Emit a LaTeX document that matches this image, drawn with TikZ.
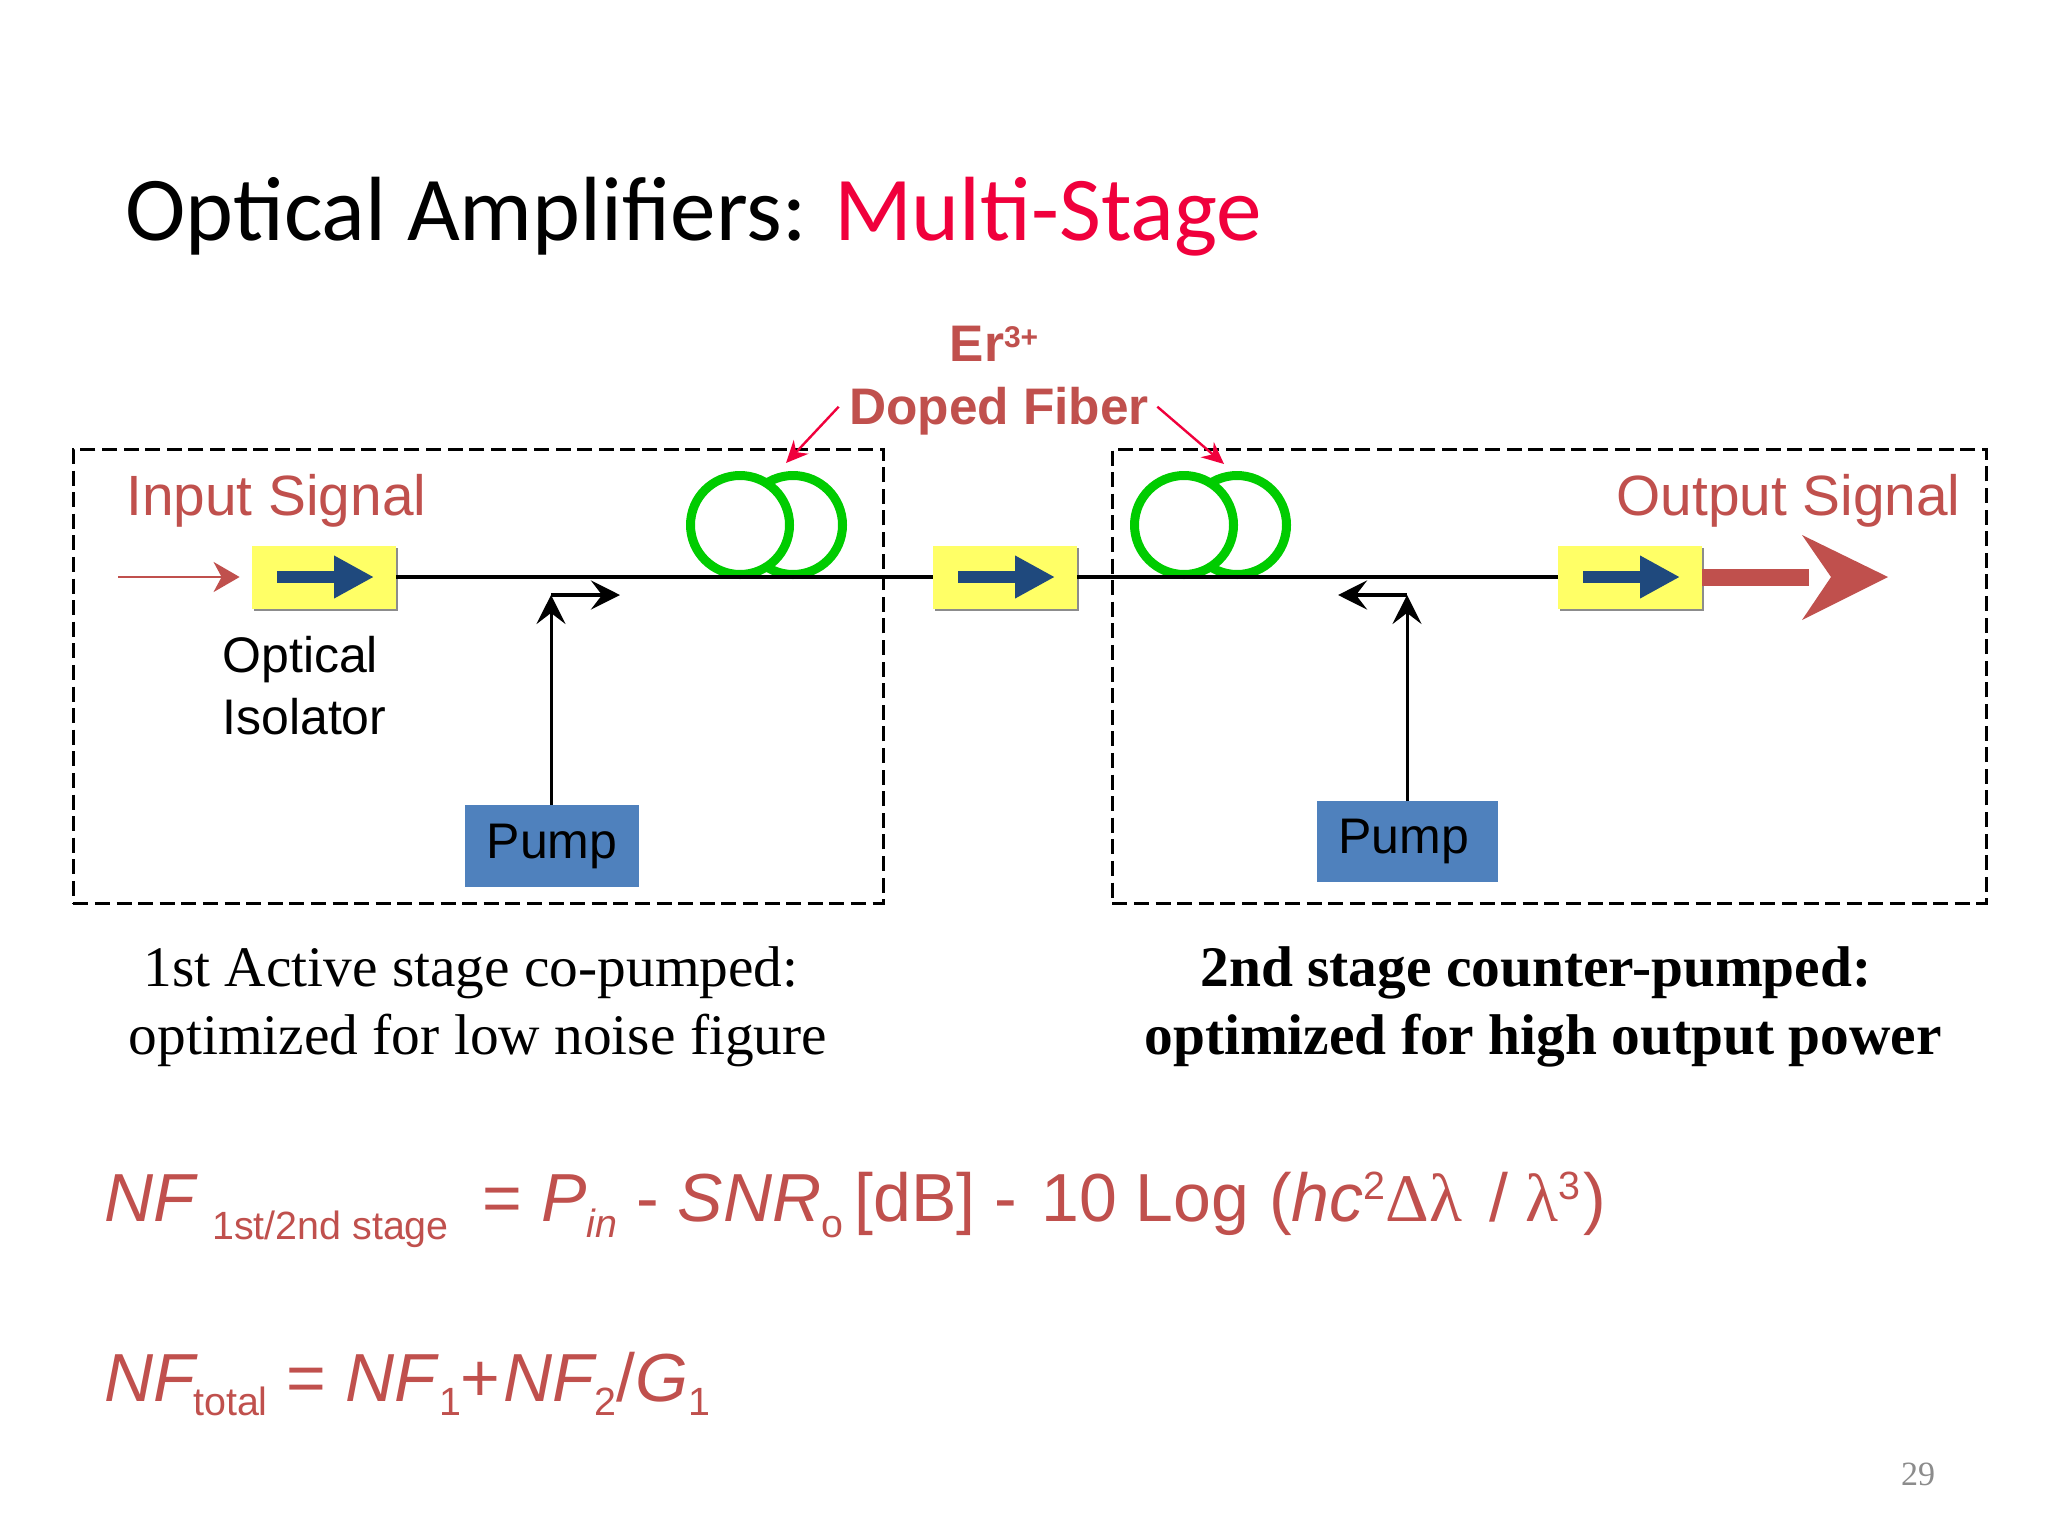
\documentclass[tikz,border=0pt]{standalone}
\usepackage{fontspec}
\setmainfont{Liberation Sans}
\newfontfamily\titlefont{Carlito}
\newfontfamily\capfont{Liberation Serif}
\usetikzlibrary{arrows.meta,shadows}
\definecolor{brick}{HTML}{C0504D}
\definecolor{isoyellow}{HTML}{FFFF66}
\definecolor{isonavy}{HTML}{1F497D}
\definecolor{pumpblue}{HTML}{4F81BD}
\definecolor{coilgreen}{HTML}{00CC00}
\definecolor{hotred}{HTML}{F0003C}
% sub- and superscripts of the formulas
\newcommand{\sbs}[2][-8pt]{\raisebox{#1}{\fontsize{19.7}{19.7}\selectfont #2}}
\newcommand{\sps}[1]{\raisebox{11pt}{\fontsize{19.7}{19.7}\selectfont #1}}
\begin{document}
\begin{tikzpicture}[x=0.5pt,y=-0.5pt]
	% size of each node
	\def\isowidth{72pt}
	\def\isoheight{31.5pt}
	\def\coilsz{54pt}
	\def\liney{577}
	% node style definition
	\tikzstyle{stage} = [draw, dash pattern=on 7.5pt off 3.3pt, line width=1.3pt, rectangle, anchor=north west, inner sep=0pt];
	\tikzstyle{iso} = [fill=isoyellow, rectangle, minimum height=\isoheight, minimum width=\isowidth, inner sep=0pt, drop shadow={shadow xshift=1pt, shadow yshift=-1.2pt, opacity=1, fill=black!45}];
	\tikzstyle{pump} = [fill=pumpblue, rectangle, font=\fontsize{25}{25}\selectfont, inner sep=0pt];
	\tikzstyle{coil} = [draw=coilgreen, line width=4.5pt, fill=white, circle, minimum size=\coilsz-4.5pt, inner sep=0pt];
	\tikzstyle{redlabel} = [text=brick, inner sep=0pt, anchor=base west, font=\fontsize{28.4}{28.4}\selectfont];
	\tikzstyle{blacklabel} = [inner sep=0pt, anchor=base west, font=\fontsize{25}{25}\selectfont];
	\tikzstyle{boldlabel} = [text=brick, inner sep=0pt, anchor=base, font=\bfseries\fontsize{25.7}{25.7}\selectfont];
	\tikzstyle{caption} = [inner sep=0pt, anchor=base, font=\capfont\fontsize{28.7}{28.7}\selectfont];
	\tikzstyle{captionb} = [inner sep=0pt, anchor=base, font=\capfont\bfseries\fontsize{28.7}{28.7}\selectfont];
	\tikzstyle{formula} = [text=brick, inner sep=0pt, anchor=base west, font=\fontsize{34}{34}\selectfont];
	\tikzstyle{pumpline} = [line width=1.5pt, -{Stealth[length=14.5pt,width=14.5pt,inset=5.5pt]}];
	\tikzstyle{pumpbend} = [line width=2.2pt, -{Stealth[length=14.5pt,width=14.5pt,inset=5.5pt]}];
	\tikzstyle{pointer} = [hotred, line width=1.2pt, -{Stealth[length=11pt,width=10pt]}];
	% page
	\fill[white] (0,0) rectangle (2048,1536);
	\useasboundingbox (0,0) rectangle (2048,1536);
	\node[anchor=base west, inner sep=0pt, font=\titlefont\fontsize{45.6}{45.6}\selectfont] (title) at (125,240) { Optical Amplifiers: \textcolor{hotred}{Multi-Stage} };
	% stage frames
	\node[stage, minimum width=405pt, minimum height=227pt] (stageone) at (72,448) {  };
	\node[stage, minimum width=437pt, minimum height=227pt] (stagetwo) at (1111,448) {  };
	% fiber coils
	\node[coil] (coilonerear) at (793,525) {  };
	\node[coil] (coilone) at (740,525) {  };
	\node[coil] (coiltworear) at (1237,525) {  };
	\node[coil] (coiltwo) at (1184,525) {  };
	% isolators
	\node[iso] (isoone) at (324,\liney) {  };
	\node[iso] (isotwo) at (1005,\liney) {  };
	\node[iso] (isothree) at (1630,\liney) {  };
	\foreach \n in {isoone,isotwo,isothree} {
		\draw[isonavy, line width=6pt, -{Triangle[length=20pt,width=20pt]}] ([xshift=-23.5pt]\n.center) -- ([xshift=25pt]\n.center);
	}
	% fiber
	\draw[line width=2.2pt] (isoone) -- (isotwo);
	\draw[line width=2.2pt] (isotwo) -- (isothree);
	% pumps
	\node[pump, minimum width=87pt, minimum height=41pt] (pumpone) at (552,846) { \raisebox{-2pt}{Pump} };
	\node[pump, minimum width=90.5pt, minimum height=40.5pt] (pumptwo) at (1407.5,841.5) { \raisebox{-1pt}{Pump}\hspace{4pt} };
	\coordinate (bendone) at (551,595);
	\coordinate (endone) at (620,595);
	\coordinate (bendtwo) at (1407,595);
	\coordinate (endtwo) at (1338,595);
	\draw[pumpline] (pumpone.north -| bendone) -- (bendone);
	\draw[pumpbend] (bendone) -- (endone);
	\draw[pumpline] (pumptwo.north -| bendtwo) -- (bendtwo);
	\draw[pumpbend] (bendtwo) -- (endtwo);
	% signal arrows
	\coordinate (inputstart) at (118,\liney);
	\draw[brick, line width=1.3pt, -{Stealth[length=13pt,width=15pt,inset=4pt]}] (inputstart) -- ([xshift=-6pt]isoone.west);
	\coordinate (outputtip) at (1888,\liney);
	\fill[brick] (isothree.east) ++(0,-8.5) rectangle (1809,585.5);
	\fill[brick] (outputtip) -- (1802,535) -- (1831,\liney) -- (1802,620) -- cycle;
	% labels
	\node[redlabel] (inputlabel) at (126,515) { Input Signal };
	\node[redlabel, anchor=base east] (outputlabel) at (1961,515) { Output Signal };
	\node[blacklabel] (isolabelone) at (222,672) { Optical };
	\node[blacklabel] (isolabeltwo) at (222,734) { Isolator };
	\node[boldlabel] (erlabel) at (994,361) { Er\raisebox{7pt}{\fontsize{15}{15}\selectfont 3+} };
	\node[boldlabel] (fiberlabel) at (999,424) { Doped Fiber };
	\coordinate (tipone) at (786,463);
	\coordinate (tiptwo) at (1224,464);
	\draw[pointer] ([xshift=-5pt,yshift=-1pt]fiberlabel.west) ++(0,-6) -- (tipone);
	\draw[pointer] ([xshift=4pt,yshift=-1pt]fiberlabel.east) ++(0,-6) -- (tiptwo);
	% captions
	\node[caption] (captiononea) at (471,986) { 1st Active stage co-pumped: };
	\node[caption] (captiononeb) at (478,1054) { optimized for low noise figure };
	\node[captionb] (captiontwoa) at (1536,986) { 2nd stage counter-pumped: };
	\node[captionb] (captiontwob) at (1543,1054) { optimized for high output power };
	% formulas
	\node[formula] (formulaone) at (104,1221) { \textit{NF}\hspace{7pt}\sbs[-9pt]{1st/2nd stage}\hspace{17pt}= \textit{P}\sbs[-8pt]{\textit{in}} - \textit{SNR}\sbs[-8pt]{o}\,[dB] - \hspace{2.6pt}10 Log \hspace{0.6pt}(\textit{hc}\sps{2}{\capfont Δλ}\hspace{4pt} / \hspace{-0.6pt}{\capfont λ}\sps{3}\hspace{1.3pt}) };
	\node[formula] (formulatwo) at (104,1401) { \textit{NF}\hspace{-2.5pt}\sbs[-7pt]{total} = \textit{NF}\sbs[-7pt]{1}+\hspace{1.5pt}\textit{NF}\hspace{-1.5pt}\sbs[-7pt]{2}/\textit{G}\sbs[-7pt]{1} };
	% page number
	\node[text=black!45, inner sep=0pt, font=\capfont\fontsize{17}{17}\selectfont] (pagenum) at (1918,1474) { 29 };
\end{tikzpicture}
\end{document}
